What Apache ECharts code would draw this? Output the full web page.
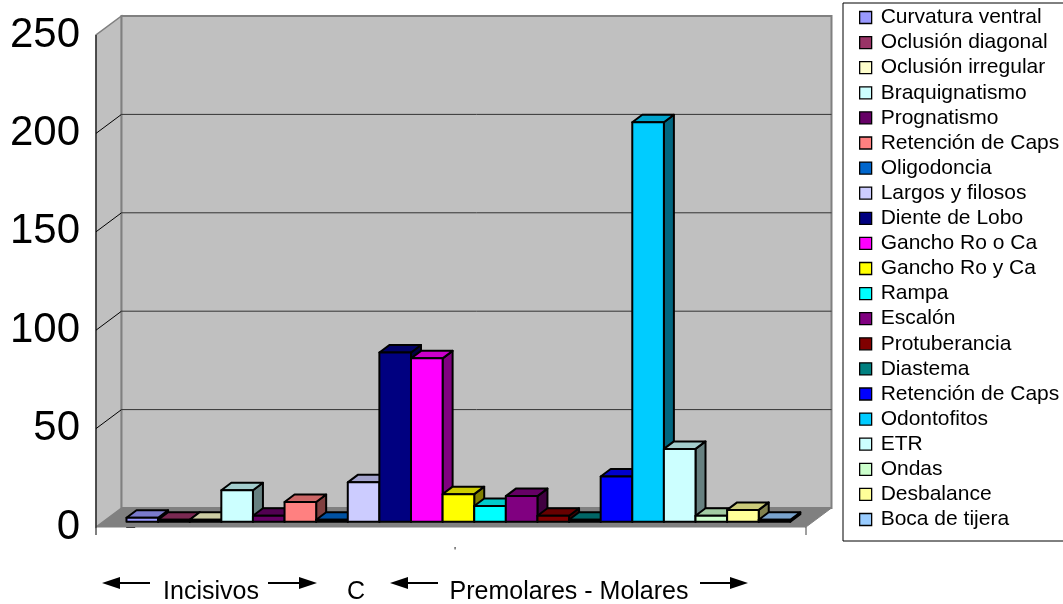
<!DOCTYPE html>
<html>
<head>
<meta charset="utf-8">
<script src="https://cdn.jsdelivr.net/npm/echarts@6/dist/echarts.min.js"></script>
<style>
  html, body { margin: 0; padding: 0; background: #ffffff; }
  #chart { width: 1063px; height: 604px; }
</style>
</head>
<body>
<div id="chart"></div>
<script>
// Hallazgos por tipo (una serie por cada hallazgo)
const categories = [
  'Curvatura ventral', 'Oclusión diagonal', 'Oclusión irregular', 'Braquignatismo',
  'Prognatismo', 'Retención de Caps', 'Oligodoncia', 'Largos y filosos',
  'Diente de Lobo', 'Gancho Ro o Ca', 'Gancho Ro y Ca', 'Rampa', 'Escalón',
  'Protuberancia', 'Diastema', 'Retención de Caps ', 'Odontofitos', 'ETR',
  'Ondas', 'Desbalance', 'Boca de tijera'
];
const values = [2, 1, 1, 16, 3, 10, 1, 20, 86, 83, 14, 8, 13, 3, 1, 23, 203, 37, 3, 6, 1];
const palette = [
  '#9999FF', '#993366', '#FFFFCC', '#CCFFFF', '#660066', '#FF8080', '#0066CC',
  '#CCCCFF', '#000080', '#FF00FF', '#FFFF00', '#00FFFF', '#800080', '#800000',
  '#008080', '#0000FF', '#00CCFF', '#CCFFFF', '#CCFFCC', '#FFFF99', '#99CCFF'
];
const yTicks = [0, 50, 100, 150, 200, 250];
const regionLabels = ['Incisivos', 'C', 'Premolares - Molares'];

// 3D look: depth of the plot box and of each column (pixels)
const BOX_DEPTH = [25.5, -19];
const BAR_SHIFT = [7.1, -5.3];
const BAR_DEPTH = [10, -7.5];
const X_MIN = -1.24, X_MAX = 21.22;
const Y_MAX = yTicks[yTicks.length - 1];

function shade(hex, k) {
  const n = parseInt(hex.slice(1), 16);
  const r = Math.round(((n >> 16) & 255) * k);
  const g = Math.round(((n >> 8) & 255) * k);
  const b = Math.round((n & 255) * k);
  return 'rgb(' + r + ',' + g + ',' + b + ')';
}

function renderFrame(params, api) {
  const p = (x, v, d) => {
    const c = api.coord([x, v]);
    return [c[0] + d * BOX_DEPTH[0], c[1] + d * BOX_DEPTH[1]];
  };
  const children = [];
  // floor
  children.push({ type: 'polygon', shape: { points: [p(X_MIN, 0, 0), p(X_MAX, 0, 0), p(X_MAX, 0, 1), p(X_MIN, 0, 1)] },
    style: { fill: '#808080', stroke: '#808080', lineWidth: 1 } });
  // left wall
  children.push({ type: 'polygon', shape: { points: [p(X_MIN, 0, 0), p(X_MIN, 0, 1), p(X_MIN, Y_MAX, 1), p(X_MIN, Y_MAX, 0)] },
    style: { fill: '#c0c0c0', stroke: '#808080', lineWidth: 1.5 } });
  // back wall
  children.push({ type: 'polygon', shape: { points: [p(X_MIN, 0, 1), p(X_MAX, 0, 1), p(X_MAX, Y_MAX, 1), p(X_MIN, Y_MAX, 1)] },
    style: { fill: '#c0c0c0', stroke: '#808080', lineWidth: 2 } });
  // gridlines
  yTicks.forEach(v => {
    if (v === 0 || v === Y_MAX) return;
    const a = p(X_MIN, v, 0), b = p(X_MIN, v, 1), c = p(X_MAX, v, 1);
    children.push({ type: 'line', shape: { x1: a[0], y1: a[1], x2: b[0], y2: b[1] }, style: { stroke: '#000', lineWidth: 1 } });
    children.push({ type: 'line', shape: { x1: b[0], y1: b[1], x2: c[0], y2: c[1] }, style: { stroke: '#333333', lineWidth: 1 } });
  });
  // category axis end ticks
  [X_MIN, X_MAX].forEach(x => {
    const a = p(x, 0, 0);
    children.push({ type: 'line', shape: { x1: a[0], y1: a[1], x2: a[0], y2: a[1] + 8 }, style: { stroke: x === X_MIN ? '#000' : '#404040', lineWidth: 1 } });
  });
  // front edge of the value axis
  const f0 = p(X_MIN, 0, 0), f1 = p(X_MIN, Y_MAX, 0);
  children.push({ type: 'line', shape: { x1: f0[0], y1: f0[1], x2: f1[0], y2: f1[1] }, style: { stroke: '#000', lineWidth: 1 } });
  return { type: 'group', children };
}

function renderBar(params, api) {
  const i = api.value(0), v = api.value(1);
  const base = api.coord([i - 0.5, 0]);
  const top = api.coord([i + 0.5, v]);
  const x0 = base[0] + BAR_SHIFT[0], x1 = top[0] + BAR_SHIFT[0];
  const y0 = base[1] + BAR_SHIFT[1], y1 = top[1] + BAR_SHIFT[1];
  const dx = BAR_DEPTH[0], dy = BAR_DEPTH[1];
  const color = palette[params.seriesIndex - 1];
  const edge = { stroke: '#000', lineWidth: 2, lineJoin: 'round' };
  return {
    type: 'group',
    children: [
      { type: 'polygon', shape: { points: [[x1, y1], [x1, y0], [x1 + dx, y0 + dy], [x1 + dx, y1 + dy]] },
        style: Object.assign({ fill: shade(color, 0.5) }, edge) },
      { type: 'polygon', shape: { points: [[x0, y1], [x1, y1], [x1 + dx, y1 + dy], [x0 + dx, y1 + dy]] },
        style: Object.assign({ fill: shade(color, 0.8) }, edge) },
      { type: 'rect', shape: { x: x0, y: y1, width: x1 - x0, height: y0 - y1 },
        style: Object.assign({ fill: color }, edge) }
    ]
  };
}

const series = [{
  name: 'frame',
  type: 'custom',
  coordinateSystem: 'cartesian2d',
  silent: true,
  z: 1,
  data: [[0, 0]],
  renderItem: renderFrame
}];
categories.forEach((name, i) => {
  series.push({
    name: name,
    type: 'custom',
    coordinateSystem: 'cartesian2d',
    silent: true,
    z: 10 + i,
    itemStyle: { color: palette[i] },
    data: [[i, values[i]]],
    renderItem: renderBar
  });
});

function arrow(tail, tip, y) {
  const dir = tip > tail ? 1 : -1;
  const headLen = 18, headHalf = 6;
  return {
    type: 'group',
    children: [
      { type: 'line', shape: { x1: tail, y1: y, x2: tip - dir * headLen, y2: y }, style: { stroke: '#000', lineWidth: 2 } },
      { type: 'polygon', shape: { points: [[tip, y], [tip - dir * headLen, y - headHalf], [tip - dir * headLen, y + headHalf]] }, style: { fill: '#000' } }
    ]
  };
}

function label(text, cx) {
  return {
    type: 'text', x: cx, y: 592,
    style: { text: text, fill: '#000', font: '25px "Liberation Sans", Arial, sans-serif', textAlign: 'center', textVerticalAlign: 'middle' }
  };
}

const chart = echarts.init(document.getElementById('chart'), null, { renderer: 'canvas' });
chart.setOption({
  animation: false,
  backgroundColor: '#ffffff',
  grid: { left: 96, right: 257, top: 35, bottom: 77 },
  xAxis: { type: 'value', min: X_MIN, max: X_MAX, show: false },
  yAxis: {
    type: 'value', min: 0, max: Y_MAX, interval: 50,
    axisLine: { show: false },
    axisTick: { show: true, length: 9, lineStyle: { color: '#000' } },
    axisLabel: { color: '#000', fontSize: 42, fontFamily: '"Liberation Sans", Arial, sans-serif', margin: 16 },
    splitLine: { show: false }
  },
  legend: {
    data: categories,
    orient: 'vertical',
    left: 843, top: 3,
    padding: [4, 3, 11, 16],
    icon: 'rect',
    itemWidth: 12, itemHeight: 12, itemGap: 4.1,
    itemStyle: { borderColor: '#000', borderWidth: 1.3 },
    borderColor: '#000', borderWidth: 1,
    selectedMode: false,
    textStyle: { color: '#000', fontSize: 21, lineHeight: 21, fontFamily: '"Liberation Sans", Arial, sans-serif', padding: [0, 0, 0, 4] }
  },
  graphic: [
    arrow(150, 102, 583),
    arrow(268, 317, 583),
    arrow(438, 390, 583),
    arrow(700, 748, 583),
    label(regionLabels[0], 211),
    label(regionLabels[1], 356),
    label(regionLabels[2], 569),
    { type: 'text', x: 455, y: 552, style: { text: "'", fill: '#000', font: '11px "Liberation Sans", Arial, sans-serif', textAlign: 'center', textVerticalAlign: 'middle' } }
  ],
  series: series
});
</script>
</body>
</html>
